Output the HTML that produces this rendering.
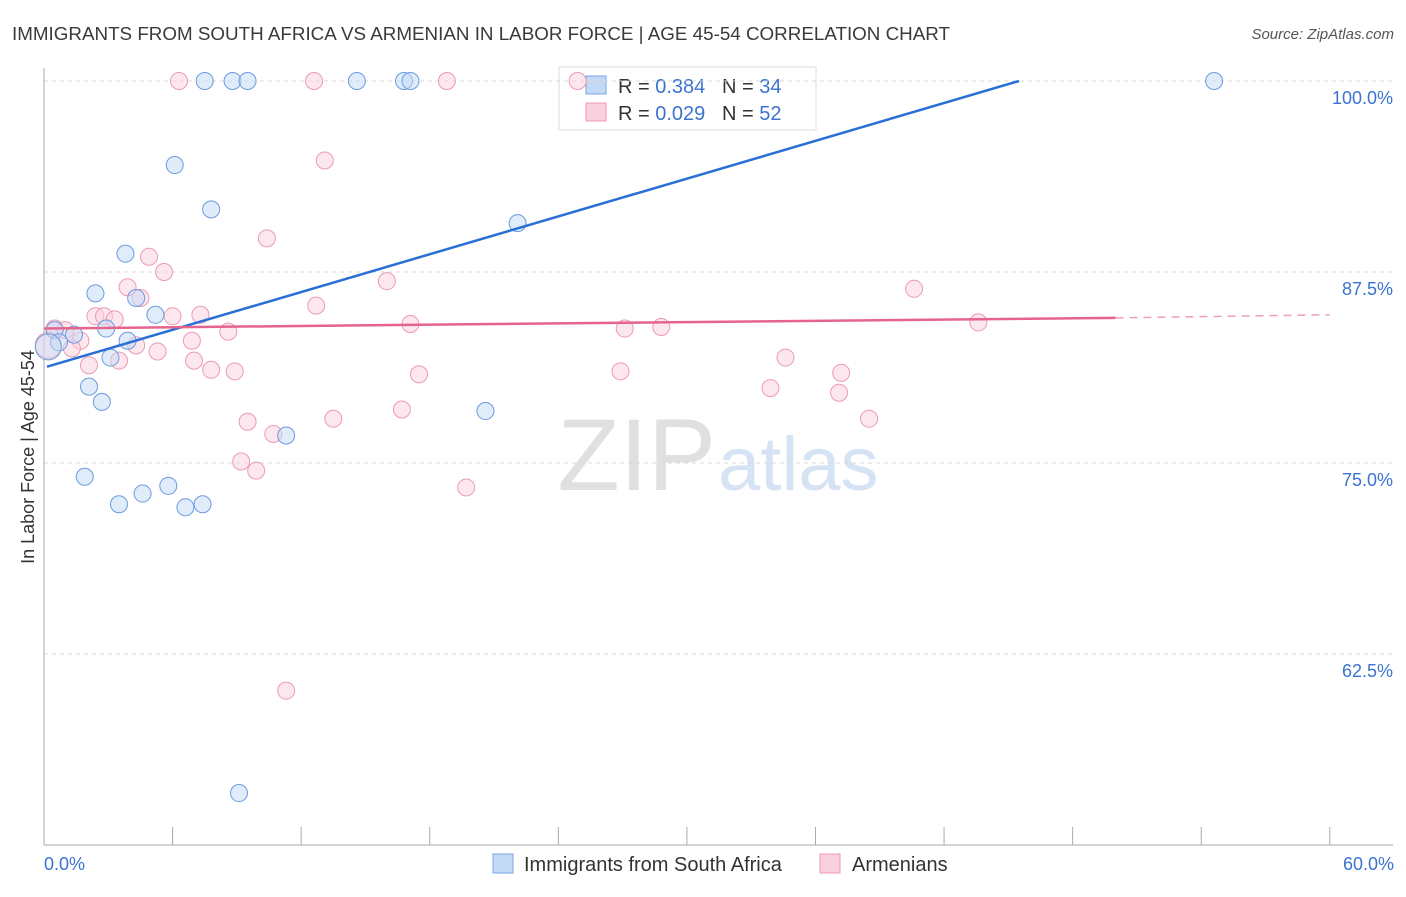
<!DOCTYPE html>
<html><head><meta charset="utf-8"><style>
body{margin:0;background:#fff;font-family:"Liberation Sans",sans-serif;}
svg text{font-family:"Liberation Sans",sans-serif;}
</style></head><body>
<svg id="chart" width="1406" height="892" xmlns="http://www.w3.org/2000/svg">
<text x="12" y="40" font-size="18" fill="#3a3a3a" textLength="938" lengthAdjust="spacingAndGlyphs">IMMIGRANTS FROM SOUTH AFRICA VS ARMENIAN IN LABOR FORCE | AGE 45-54 CORRELATION CHART</text>
<text x="1394" y="39" font-size="15" fill="#555" text-anchor="end" font-style="italic">Source: ZipAtlas.com</text>
<text x="716" y="490" font-size="102" text-anchor="end" fill="#e0e0e0" font-family="Liberation Serif">ZIP</text>
<text x="718" y="490" font-size="76" fill="#d6e3f4">atlas</text>
<g>
<rect x="559" y="67" width="257" height="63" fill="#fff" stroke="#ddd"/>
<rect x="586" y="76" width="20" height="18" fill="#c4d9f5" stroke="#7aa6e3"/>
<rect x="586" y="103" width="20" height="18" fill="#fbd0dd" stroke="#ec9ab4"/>
<text x="618" y="93" font-size="20" fill="#333">R = <tspan fill="#3b73d1">0.384</tspan>&#160;&#160;&#160;N = <tspan fill="#3b73d1">34</tspan></text>
<text x="618" y="120" font-size="20" fill="#333">R = <tspan fill="#3b73d1">0.029</tspan>&#160;&#160;&#160;N = <tspan fill="#3b73d1">52</tspan></text>
</g>
<g id="grid"></g><g id="axes"></g><g id="pts"></g><g id="lines"></g>
<text transform="translate(34,457) rotate(-90)" font-size="18" fill="#333" text-anchor="middle">In Labor Force | Age 45-54</text>
<text x="44" y="870" font-size="18" fill="#3b73d1">0.0%</text>
<text x="1394" y="870" font-size="18" fill="#3b73d1" text-anchor="end">60.0%</text>
<g>
<rect x="493" y="854" width="20" height="19" fill="#c4d9f5" stroke="#7aa6e3"/>
<text x="524" y="871" font-size="20" fill="#333">Immigrants from South Africa</text>
<rect x="820" y="854" width="20" height="19" fill="#fbd0dd" stroke="#ec9ab4"/>
<text x="852" y="871" font-size="20" fill="#333">Armenians</text>
</g>
</svg>
<script>
const yTicks=[100,87.5,75,62.5];
const yTickLabels=["100.0%","87.5%","75.0%","62.5%"];
const xTicks=[0,6,12,18,24,30,36,42,48,54,60];
const blueX=[7.5,8.8,9.5,14.6,16.8,17.1,54.6,6.1,7.8,22.1,3.8,2.4,4.3,5.2,2.9,0.5,1.4,0.7,3.9,3.1,2.1,2.7,20.6,11.3,1.9,4.6,5.8,3.5,6.6,7.4,9.1,0.2];
const blueY=[100,100,100,100,100,100,100,94.5,91.6,90.7,88.7,86.1,85.8,84.7,83.8,83.7,83.4,82.9,83.0,81.9,80.0,79.0,78.4,76.8,74.1,73.0,73.5,72.3,72.1,72.3,53.4,82.6];
const pinkX=[6.3,12.6,18.8,24.9,13.1,10.4,4.9,5.6,16.0,3.9,4.5,12.7,2.4,2.8,3.3,6.0,7.3,8.6,17.1,27.1,28.8,40.6,43.6,0.5,1.0,1.7,1.3,4.3,5.3,6.9,7.0,3.5,2.1,7.8,8.9,17.5,26.9,34.6,37.2,33.9,37.1,16.7,9.5,13.5,38.5,10.7,9.2,9.9,19.7,11.3,0.2];
const pinkY=[100,100,100,100,94.8,89.7,88.5,87.5,86.9,86.5,85.8,85.3,84.6,84.6,84.4,84.6,84.7,83.6,84.1,83.8,83.9,86.4,84.2,83.8,83.7,83.0,82.5,82.7,82.3,83.0,81.7,81.7,81.4,81.1,81.0,80.8,81.0,81.9,80.9,79.9,79.6,78.5,77.7,77.9,77.9,76.9,75.1,74.5,73.4,60.1,82.7];
const blueTrend=[81.3,100];
const blueTrendX=[0,45.5];
const pinkTrend=[83.8,84.5,84.7];
const pinkTrendX=[0,50,60];
const NS="http://www.w3.org/2000/svg";
const X=v=>44+v*21.43, Y=v=>845-(v-50)*15.28;
function mk(tag,attrs,parent){const e=document.createElementNS(NS,tag);for(const k in attrs)e.setAttribute(k,attrs[k]);document.getElementById(parent).appendChild(e);return e;}
yTicks.forEach((t,i)=>{
 const l=mk('line',{x1:44,x2:1393,y1:Y(t),y2:Y(t),stroke:'#d8d8d8','stroke-dasharray':'4,4'},'grid');
 
 
 const tx=mk('text',{x:1393,y:Y(t)+23,'font-size':18,fill:'#3b73d1','text-anchor':'end'},'grid');
 tx.textContent=yTickLabels[i];
 
 
});
const ax=mk('line',{x1:44,x2:44,y1:68,y2:845,stroke:'#aaa'},'axes');


const bx=mk('line',{x1:44,x2:1393,y1:845,y2:845,stroke:'#aaa'},'axes');


xTicks.forEach(t=>{
 const l=mk('line',{x1:X(t),x2:X(t),y1:827,y2:845,stroke:'#aaa'},'axes');
 
 
});
function dots(xs,ys,fill,stroke,name){
 xs.forEach((x,i)=>{
  const big=(i===xs.length-1);
  const c=mk('circle',{cx:X(x),cy:Y(ys[i]),r:big?13:8.5,fill:fill,'fill-opacity':big?0.45:0.5,stroke:stroke,'stroke-width':1},'pts');
  
  
 });
}
dots(pinkX,pinkY,'#fbd0dd','#ec9ab4','armenian-point');
dots(blueX,blueY,'#c4d9f5','#6a9be0','south-africa-point');
const bl=mk('line',{x1:X(blueTrendX[0])+3,y1:Y(blueTrend[0]),x2:X(blueTrendX[1]),y2:Y(blueTrend[1]),stroke:'#2a6fd6','stroke-width':2.5},'lines');


const pl=mk('line',{x1:X(pinkTrendX[0]),y1:Y(pinkTrend[0]),x2:X(pinkTrendX[1]),y2:Y(pinkTrend[1]),stroke:'#e5648e','stroke-width':2.5},'lines');


const pd=mk('line',{x1:X(pinkTrendX[1]),y1:Y(pinkTrend[1]),x2:X(pinkTrendX[2]),y2:Y(pinkTrend[2]),stroke:'#eea0b8','stroke-width':1.5,'stroke-dasharray':'8,6'},'lines');


</script>
</body></html>
